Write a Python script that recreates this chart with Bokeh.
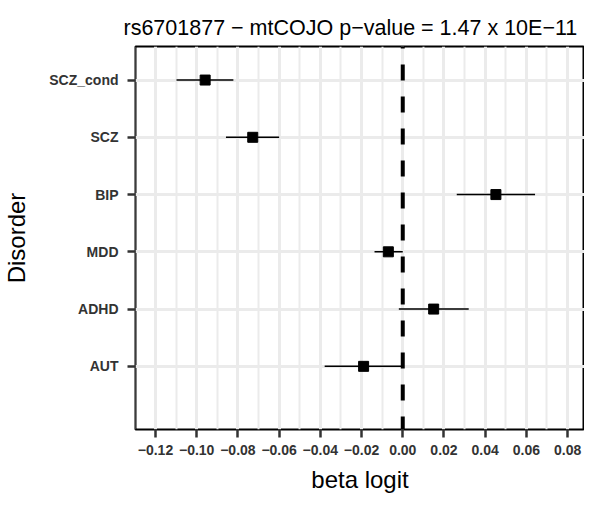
from bokeh.plotting import figure
from bokeh.models import Range1d, FixedTicker, Span, ColumnDataSource
from bokeh.embed import file_html
from bokeh.resources import INLINE

# ---- data ----
disorders = ["SCZ_cond", "SCZ", "BIP", "MDD", "ADHD", "AUT"]
beta = [-0.0959, -0.0728, 0.0452, -0.0070, 0.0150, -0.0190]
ci_low = [-0.1098, -0.0858, 0.0262, -0.0137, -0.0019, -0.0379]
ci_high = [-0.0822, -0.0600, 0.0642, 0.0000, 0.0320, 0.0000]
x_ticks = [-0.12, -0.10, -0.08, -0.06, -0.04, -0.02, 0.00, 0.02, 0.04, 0.06, 0.08]
x_tick_labels = ["\u22120.12", "\u22120.10", "\u22120.08", "\u22120.06", "\u22120.04", "\u22120.02",
                 "0.00", "0.02", "0.04", "0.06", "0.08"]
x_minor = [-0.13, -0.11, -0.09, -0.07, -0.05, -0.03, -0.01, 0.01, 0.03, 0.05, 0.07]
ref_x = 0.0
title_text = "rs6701877 \u2212 mtCOJO p\u2212value = 1.47 x 10E\u221211"

n = len(disorders)
ypos = [n - i for i in range(n)]
src = ColumnDataSource(dict(y=ypos, beta=beta, lo=ci_low, hi=ci_high, name=disorders))

FONT = "Liberation Sans"

p = figure(width=584, height=495, output_backend="svg", toolbar_location=None,
           x_range=Range1d(-0.1297, 0.0882), y_range=Range1d(-0.103, 6.586),
           min_border_left=125, min_border_right=0, min_border_top=46, min_border_bottom=50)

p.title.text = title_text
p.title.align = "left"
p.title.offset = -12
p.title.vertical_align = "top"
p.title.text_font = FONT
p.title.text_font_style = "normal"
p.title.text_font_size = "21.5px"
p.title.text_color = "black"

p.background_fill_color = "white"
p.border_fill_color = "white"
p.outline_line_color = "black"
p.outline_line_width = 2

# grids
p.xgrid.ticker = FixedTicker(ticks=x_ticks, minor_ticks=x_minor)
p.xgrid.grid_line_color = "#ebebeb"
p.xgrid.grid_line_width = 3
p.xgrid.minor_grid_line_color = "#ebebeb"
p.xgrid.minor_grid_line_width = 2
p.ygrid.ticker = FixedTicker(ticks=ypos)
p.ygrid.grid_line_color = "#ebebeb"
p.ygrid.grid_line_width = 3

# axes
p.xaxis.ticker = FixedTicker(ticks=x_ticks)
p.xaxis.major_label_overrides = {t: l for t, l in zip(x_ticks, x_tick_labels)}
p.yaxis.ticker = FixedTicker(ticks=ypos)
p.yaxis.major_label_overrides = {y: d for y, d in zip(ypos, disorders)}
p.xaxis.axis_label = "beta logit"
p.yaxis.axis_label = "Disorder"
for ax in (p.xaxis, p.yaxis):
    ax.axis_line_color = None
    ax.major_tick_out = 8
    ax.major_tick_in = 0
    ax.major_tick_line_width = 2.5
    ax.major_tick_line_color = "#333333"
    ax.minor_tick_line_color = None
    ax.major_label_text_font = FONT
    ax.major_label_text_font_style = "bold"
    ax.major_label_text_font_size = "14px"
    ax.major_label_text_color = "#333333"
    ax.axis_label_text_font = FONT
    ax.axis_label_text_font_style = "normal"
    ax.axis_label_text_font_size = "24px"
    ax.axis_label_text_color = "black"
p.xaxis.major_label_standoff = 7
p.yaxis.major_label_standoff = 9
p.xaxis.axis_label_standoff = 8
p.yaxis.axis_label_standoff = 16

# reference line
p.add_layout(Span(location=ref_x, dimension="height", line_color="black",
                  line_width=4, line_dash="16 16", line_dash_offset=14))

# error bars and points
p.segment(x0="lo", y0="y", x1="hi", y1="y", source=src, line_color="black", line_width=1.5)
p.scatter(x="beta", y="y", source=src, marker="square", size=10,
          fill_color="black", line_color="black")

open("out.html", "w").write(file_html(p, INLINE))
